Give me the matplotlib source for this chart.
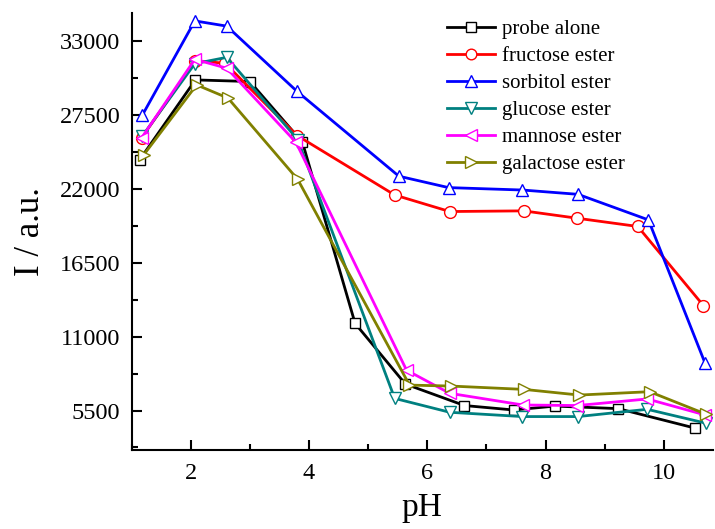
import matplotlib
matplotlib.use("Agg")
import matplotlib.pyplot as plt
from matplotlib.ticker import AutoMinorLocator

plt.rcParams['font.family'] = ['Liberation Serif', 'DejaVu Serif']

series_names = ["probe alone", "fructose ester", "sorbitol ester",
                "glucose ester", "mannose ester", "galactose ester"]
colors = ["#000000", "#ff0000", "#0000ff", "#008080", "#ff00ff", "#808000"]
markers = ["s", "o", "^", "v", "<", ">"]
msizes = [7.5, 8.5, 9, 9, 9, 9]

ph_probe = [1.14, 2.08, 3.00, 3.89, 4.78, 5.63, 6.63, 7.46, 8.16, 9.23, 10.53]
I_probe = [24170, 30090, 29970, 25450, 11980, 7470, 5870, 5540, 5830, 5640, 4190]

ph_fructose = [1.17, 2.08, 2.58, 3.80, 5.45, 6.38, 7.63, 8.54, 9.56, 10.67]
I_fructose = [25780, 31520, 31330, 25950, 21530, 20300, 20350, 19800, 19190, 13310]

ph_sorbitol = [1.18, 2.07, 2.61, 3.80, 5.52, 6.36, 7.61, 8.55, 9.74, 10.70]
I_sorbitol = [27450, 34480, 34090, 29230, 22930, 22080, 21900, 21580, 19680, 9000]

ph_glucose = [1.18, 2.07, 2.61, 3.81, 5.45, 6.38, 7.61, 8.55, 9.72, 10.71]
I_glucose = [25900, 31300, 31770, 25650, 6400, 5370, 5050, 5050, 5590, 4560]

ph_mannose = [1.17, 2.07, 2.61, 3.78, 5.65, 6.38, 7.62, 8.54, 9.72, 10.70]
I_mannose = [25780, 31620, 30960, 25450, 8500, 6780, 5910, 5870, 6360, 5170]

ph_galactose = [1.21, 2.10, 2.63, 3.81, 5.70, 6.40, 7.64, 8.57, 9.76, 10.72]
I_galactose = [24540, 29720, 28740, 22690, 7390, 7320, 7070, 6650, 6900, 5220]

xs = [ph_probe, ph_fructose, ph_sorbitol, ph_glucose, ph_mannose, ph_galactose]
ys = [I_probe, I_fructose, I_sorbitol, I_glucose, I_mannose, I_galactose]

y_ticks = [5500, 11000, 16500, 22000, 27500, 33000]
x_ticks = [2, 4, 6, 8, 10]

fig = plt.figure(figsize=(7.15, 5.29), dpi=100)
ax = fig.add_axes([0.184, 0.149, 0.813, 0.826])

for x, y, n, c, m, ms in zip(xs, ys, series_names, colors, markers, msizes):
    ax.plot(x, y, color=c, marker=m, markersize=ms, markerfacecolor='white',
            markeredgecolor=c, markeredgewidth=1.0, linewidth=2, label=n)

ax.set_xlim(1.0, 10.83)
ax.set_ylim(2550, 35050)
ax.set_xticks(x_ticks)
ax.set_yticks(y_ticks)
ax.set_yticklabels([f"{v}" for v in y_ticks])
ax.xaxis.set_minor_locator(AutoMinorLocator(2))
ax.yaxis.set_minor_locator(AutoMinorLocator(2))

for s in ['top', 'right']:
    ax.spines[s].set_visible(False)
for s in ['left', 'bottom']:
    ax.spines[s].set_linewidth(1.5)

ax.tick_params(which='major', direction='in', length=7, width=1.5, labelsize=17.5)
ax.tick_params(axis='y', which='major', pad=8)
ax.tick_params(axis='x', which='major', pad=9)
ax.tick_params(which='minor', direction='in', length=4, width=1.5)

ax.set_xlabel("pH", fontsize=24, labelpad=6)
ax.set_ylabel("I / a.u.", fontsize=25, labelpad=9)

leg = ax.legend(loc='upper left', bbox_to_anchor=(0.614, 0.979),
                bbox_transform=fig.transFigure, frameon=False,
                fontsize=15, handlelength=2.3, handletextpad=0.34,
                labelspacing=0.36, borderaxespad=0.0, markerscale=0.9)

fig.savefig("out.png", dpi=100)
